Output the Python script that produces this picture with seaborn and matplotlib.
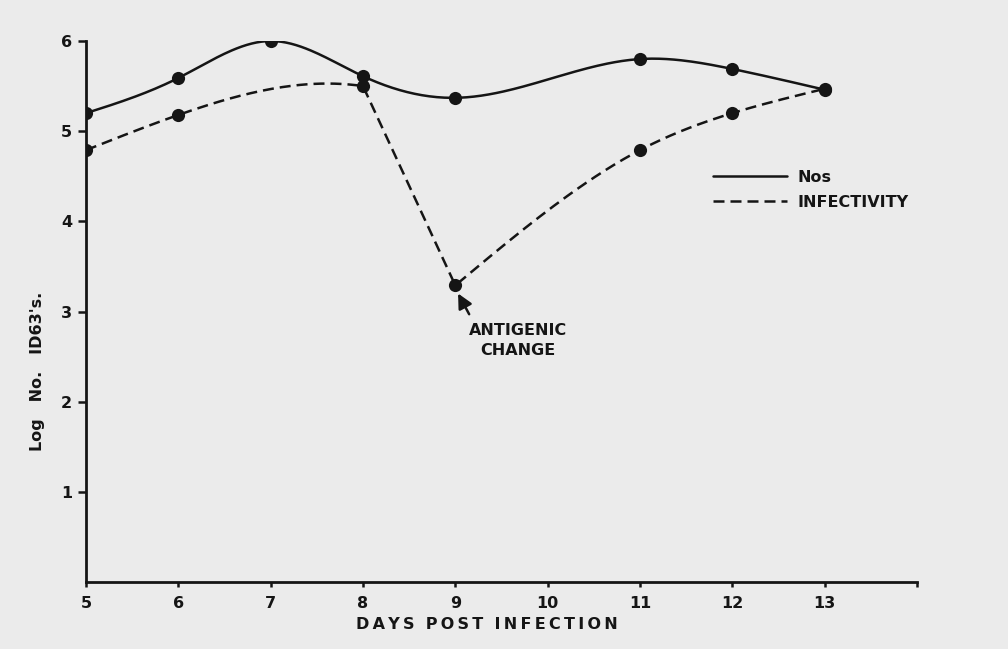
import numpy as np
import pandas as pd
import matplotlib.pyplot as plt
import seaborn as sns

# --- Data ---
days_nos = [5, 6, 7, 8, 9, 11, 12, 13]
log_nos = [5.2, 5.59, 6.0, 5.61, 5.37, 5.8, 5.69, 5.46]

days_inf = [5, 6, 8, 9, 11, 12, 13]
log_inf = [4.79, 5.18, 5.5, 3.29, 4.79, 5.2, 5.47]

x_ticks = [5, 6, 7, 8, 9, 10, 11, 12, 13, 14]
x_tick_labels = ["5", "6", "7", "8", "9", "10", "11", "12", "13", ""]
y_ticks = [1, 2, 3, 4, 5, 6]

INK = "#151515"
PAPER = "#ebebeb"
THIN = "\u2009"


def spline(x, y, n=80, end_slope=None):
    """Cubic spline through the points (natural start, natural or clamped end)."""
    x = np.asarray(x, float)
    y = np.asarray(y, float)
    k = len(x)
    if k == 2:
        return np.linspace(x[0], x[1], n), np.linspace(y[0], y[1], n)
    h = np.diff(x)
    d = np.diff(y) / h
    A = np.zeros((k, k))
    b = np.zeros(k)
    A[0, 0] = 1
    for i in range(1, k - 1):
        A[i, i - 1] = h[i - 1]
        A[i, i] = 2 * (h[i - 1] + h[i])
        A[i, i + 1] = h[i]
        b[i] = 6 * (d[i] - d[i - 1])
    if end_slope is None:
        A[-1, -1] = 1
    else:
        A[-1, -2] = h[-1]
        A[-1, -1] = 2 * h[-1]
        b[-1] = 6 * (end_slope - d[-1])
    M = np.linalg.solve(A, b)
    xs = np.linspace(x[0], x[-1], n)
    i = np.clip(np.searchsorted(x, xs, side="right") - 1, 0, k - 2)
    x0, x1, hh = x[i], x[i + 1], x[i + 1] - x[i]
    ys = (M[i] * (x1 - xs) ** 3 / (6 * hh) + M[i + 1] * (xs - x0) ** 3 / (6 * hh)
          + (y[i] / hh - M[i] * hh / 6) * (x1 - xs)
          + (y[i + 1] / hh - M[i + 1] * hh / 6) * (xs - x0))
    return xs, ys


def spaced(text):
    # hand lettering on the original is widely tracked
    return "  ".join(THIN.join(word) for word in text.split())


# smooth curve for Nos, infectivity is drawn in pieces (kinks at days 8 and 9)
nx, ny = spline(days_nos, log_nos, n=300)
pieces = [spline(days_inf[0:3], log_inf[0:3], end_slope=-0.15),
          spline(days_inf[2:4], log_inf[2:4]),
          spline(days_inf[3:], log_inf[3:])]
ix = np.concatenate([p[0] for p in pieces])
iy = np.concatenate([p[1] for p in pieces])

nos_curve = pd.DataFrame({"day": nx, "log": ny})
inf_curve = pd.DataFrame({"day": ix, "log": iy})
points = pd.DataFrame({"day": days_nos + days_inf, "log": log_nos + log_inf})

# --- Plotting ---
sns.set_style("ticks")
plt.rcParams["font.family"] = ["DejaVu Sans"]
fig = plt.figure(figsize=(10.08, 6.49), dpi=100, facecolor=PAPER)
ax = fig.add_axes([0.0853, 0.1032, 0.8244, 0.8336])
ax.set_facecolor(PAPER)

sns.lineplot(data=nos_curve, x="day", y="log", sort=False, estimator=None,
             color=INK, lw=1.8, label="Nos", ax=ax)
sns.lineplot(data=inf_curve, x="day", y="log", sort=False, estimator=None,
             color=INK, lw=1.8, label="INFECTIVITY", ax=ax)
ax.lines[1].set_dashes((4.4, 2.4))
sns.scatterplot(data=points, x="day", y="log", s=90, color=INK, edgecolor=INK,
                linewidth=0, zorder=3, legend=False, ax=ax)

ax.annotate("", xy=(9.03, 3.2), xytext=(9.15, 2.97),
            arrowprops=dict(arrowstyle="-|>", color=INK, lw=1.8, mutation_scale=22,
                            shrinkA=0, shrinkB=0))
ax.text(9.68, 2.68, "ANTIGENIC\nCHANGE", ha="center", va="center", fontsize=11.5,
        fontweight="bold", color=INK, linespacing=1.4)

ax.set_xlim(5, 14)
ax.set_ylim(0, 6)
ax.set_xticks(x_ticks)
ax.set_xticklabels(x_tick_labels)
ax.set_yticks(y_ticks)
ax.tick_params(axis="x", direction="out", length=3.8, width=1.8, colors=INK,
               labelsize=11.5, pad=6)
ax.tick_params(axis="y", direction="out", length=6, width=1.8, colors=INK,
               labelsize=11.5, pad=4)
for lab in ax.get_xticklabels() + ax.get_yticklabels():
    lab.set_fontweight("bold")

for side in ["top", "right"]:
    ax.spines[side].set_visible(False)
for side in ["left", "bottom"]:
    ax.spines[side].set_linewidth(2)
    ax.spines[side].set_color(INK)

ax.set_xlabel(spaced("DAYS POST INFECTION"), fontsize=11.5, fontweight="bold", color=INK)
ax.xaxis.set_label_coords(0.482, -0.065)
ax.set_ylabel("Log   No.   ID63's.", fontsize=11.5, fontweight="bold", color=INK)
ax.yaxis.set_label_coords(-0.049, 0.39)

handles, labels = ax.get_legend_handles_labels()
ax.legend(handles, labels, loc="center left",
          bbox_to_anchor=(0.755, 0.725), frameon=False, handlelength=4.6,
          handletextpad=0.65, labelspacing=0.6, borderpad=0, borderaxespad=0,
          prop={"size": 11.5, "weight": "bold"}, labelcolor=INK)

plt.savefig("out.png", dpi=100, facecolor=PAPER)
